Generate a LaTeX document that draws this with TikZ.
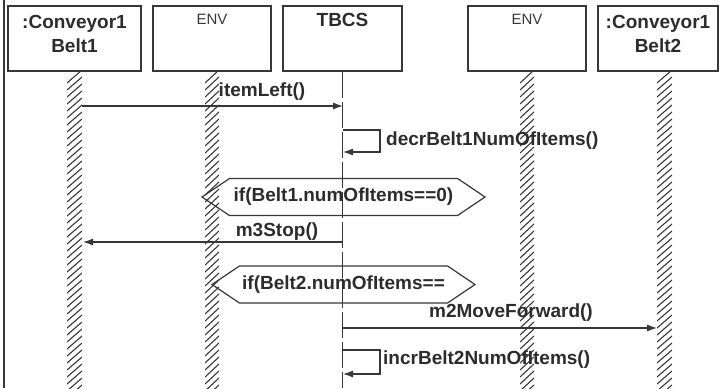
\documentclass[tikz,border=0pt]{standalone}
\usepackage{fontspec}
\setmainfont{Liberation Sans}
\usetikzlibrary{arrows.meta,shapes.symbols}

\definecolor{ink}{RGB}{55,55,55}

\tikzset{
  objbox/.style={draw=ink, line width=1.5pt, minimum height=65pt, inner sep=0pt},
  objname/.style={font=\fontsize{19}{24}\selectfont\bfseries, align=center, inner sep=0pt, text=ink!80!black},
  envname/.style={font=\fontsize{15}{16}\selectfont, inner sep=0pt, text=ink},
  lifeline/.style={draw=ink, line width=1.2pt, dash pattern=on 26pt off 4pt},
  hatch/.style={draw=ink, line width=1.1pt},
  msg/.style={draw=ink, line width=1.2pt, -{Latex[length=10pt,width=7pt]}},
  msglabel/.style={font=\fontsize{19}{20}\selectfont\bfseries, inner sep=0pt, text=ink!80!black},
  guard/.style={draw=ink, line width=1.2pt, signal, signal to=west and east,
    signal pointer angle=68, minimum height=37pt, inner sep=0pt,
    font=\fontsize{19}{20}\selectfont\bfseries, text=ink!80!black}
}

% hatched lifeline strip: left edge, width
\newcommand{\hatchstrip}[2]{%
  \begin{scope}
    \clip (#1,71) rectangle (#1+#2,388);
    \foreach \yy in {71,78,...,400}
      \draw[hatch] (#1,\yy+12) -- (#1+#2,\yy-1);
  \end{scope}}

\begin{document}
\begin{tikzpicture}[x=1pt,y=-1pt]
  \useasboundingbox (0,0) rectangle (727,388);
  \draw[ink, line width=1.3pt] (4,0) -- (4,388);

  % object boxes
  \node[objbox, minimum width=133pt] (belt1) at (74.5,38.5) {};
  \node[objbox, minimum width=118pt] (env1) at (212,38.5) {};
  \node[objbox, minimum width=119pt] (tbcs) at (342.5,38.5) {};
  \node[objbox, minimum width=118pt] (env2) at (527,38.5) {};
  \node[objbox, minimum width=120pt] (belt2) at (658,38.5) {};

  \node[objname] (belt1txt) at (74.5,34) {:Conveyor1\\Belt1};
  \node[envname] (env1txt) at (212,19) {ENV};
  \node[objname] (tbcstxt) at (342.5,20) {TBCS};
  \node[envname] (env2txt) at (527,19) {ENV};
  \node[objname] (belt2txt) at (658,34) {:Conveyor1\\Belt2};

  % lifelines
  \hatchstrip{67}{15}
  \hatchstrip{205}{14}
  \hatchstrip{520}{14}
  \hatchstrip{657}{15}
  \draw[lifeline] (tbcs.south) -- (342.5,388);

  % messages
  \coordinate (ileft) at (82,106);
  \coordinate (itbcs) at (343,106);
  \draw[msg] (ileft) -- (itbcs);
  \node[msglabel] (itemleft) at (262,92) {itemLeft()};

  \coordinate (dstart) at (343,130);
  \coordinate (dend) at (343,152);
  \draw[msg] (dstart) -- ++(37,0) |- (dend);
  \node[msglabel, anchor=west] (decr) at (386,141) {decrBelt1NumOfItems()};

  \node[guard, minimum width=283pt] (if1) at (343.5,197) {if(Belt1.numOfItems==0)};

  \coordinate (stbcs) at (343,242);
  \coordinate (sbelt) at (83,242);
  \draw[msg] (stbcs) -- (sbelt);
  \node[msglabel] (mstop) at (277,232) {m3Stop()};

  \node[guard, minimum width=263pt] (if2) at (343.5,284.5) {if(Belt2.numOfItems==};

  \coordinate (ftbcs) at (343,328);
  \coordinate (fbelt) at (657,328);
  \draw[msg] (ftbcs) -- (fbelt);
  \node[msglabel] (mfwd) at (511,313) {m2MoveForward()};

  \coordinate (istart) at (343,350);
  \coordinate (iend) at (343,374);
  \draw[msg] (istart) -- ++(37,0) |- (iend);
  \node[msglabel, anchor=west] (incr) at (383,360) {incrBelt2NumOfItems()};
\end{tikzpicture}
\end{document}
